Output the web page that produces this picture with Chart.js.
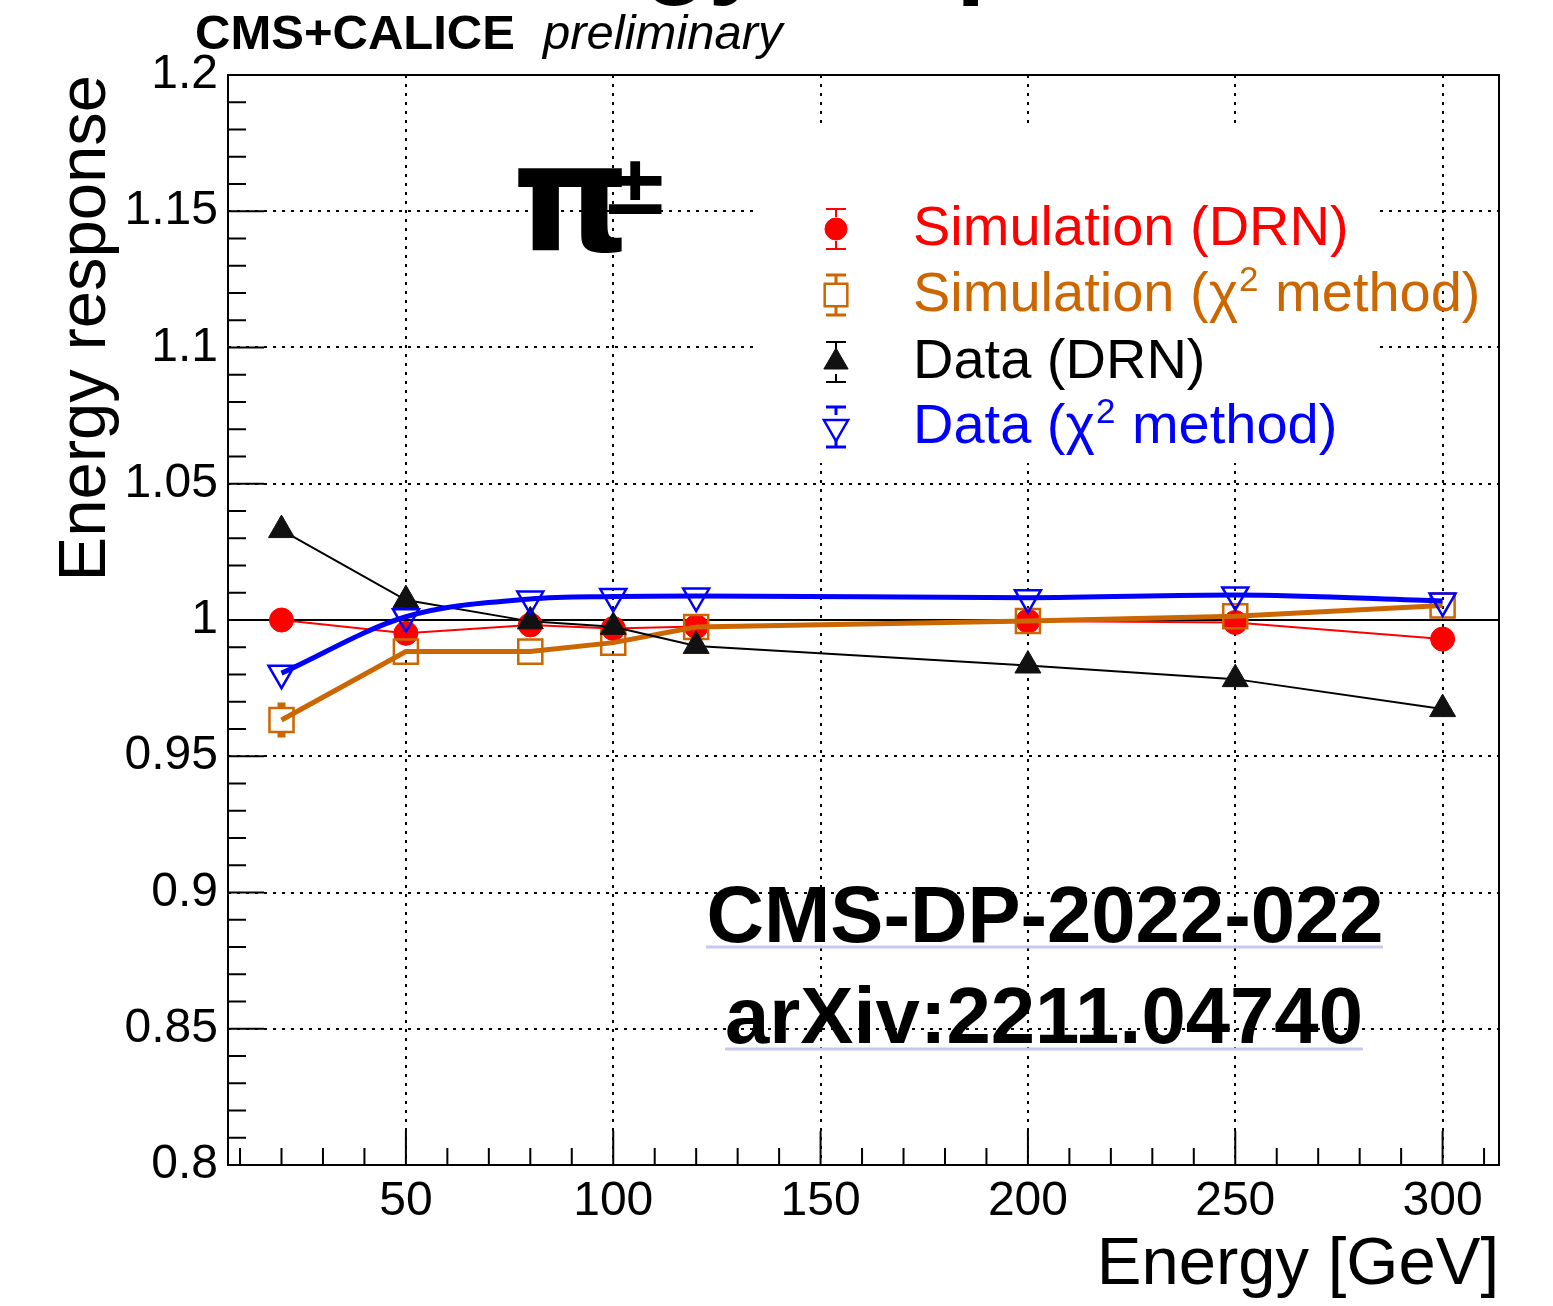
<!DOCTYPE html>
<html>
<head>
<meta charset="utf-8">
<script src="https://cdn.jsdelivr.net/npm/chart.js@4.4.0/dist/chart.umd.min.js"></script>
<style>
  html, body { margin: 0; padding: 0; background: #fff; }
</style>
</head>
<body>
<canvas id="chart" width="1553" height="1306"></canvas>
<script>
// data
const energies = [20, 50, 80, 100, 120, 200, 250, 300];
const simDrn = [1.0000, 0.9951, 0.9982, 0.9969, 0.9976, 0.9996, 0.9991, 0.9930];
const simDrnErr = [0.0015, 0.0012, 0.0010, 0.0010, 0.0010, 0.0010, 0.0010, 0.0012];
const simChi2 = [0.9633, 0.9884, 0.9884, 0.9917, 0.9974, 0.9996, 1.0014, 1.0053];
const simChi2Err = [0.0055, 0.0020, 0.0015, 0.0015, 0.0015, 0.0015, 0.0015, 0.0015];
const dataDrn = [1.0330, 1.0073, 0.9995, 0.9975, 0.9905, 0.9833, 0.9783, 0.9673];
const dataDrnErr = [0.0010, 0.0008, 0.0008, 0.0008, 0.0008, 0.0008, 0.0008, 0.0008];
const dataChi2 = [0.9805, 1.0012, 1.0077, 1.0086, 1.0088, 1.0082, 1.0092, 1.0070];
const dataChi2Err = [0.0015, 0.0012, 0.0010, 0.0010, 0.0010, 0.0010, 0.0010, 0.0010];

const xTicks = [50, 100, 150, 200, 250, 300];
const yTicks = [0.8, 0.85, 0.9, 0.95, 1.0, 1.05, 1.1, 1.15, 1.2];

const FONT = "'Liberation Sans', Arial, Helvetica, sans-serif";
const ORANGE = '#cc6600';

const toPoints = (ys) => energies.map((x, i) => ({ x: x, y: ys[i] }));

// error bars, white legend pad, the y=1 line
const backdropPlugin = {
    id: 'backdrop',
    beforeDatasetsDraw(chart) {
        const { ctx, chartArea, scales } = chart;
        ctx.save();
        // legend pad hides the grid
        ctx.fillStyle = '#fff';
        ctx.fillRect(757, 125, 619, 338);
        // reference line at 1
        ctx.strokeStyle = '#000';
        ctx.lineWidth = 2;
        ctx.beginPath();
        const y1 = scales.y.getPixelForValue(1);
        ctx.moveTo(chartArea.left, y1);
        ctx.lineTo(chartArea.right, y1);
        ctx.stroke();
        // error bars
        chart.data.datasets.forEach(ds => {
            ctx.strokeStyle = ds.borderColor;
            ctx.lineWidth = ds.errWidth;
            ds.data.forEach((p, i) => {
                const px = scales.x.getPixelForValue(p.x);
                const lo = scales.y.getPixelForValue(p.y - ds.errors[i]);
                const hi = scales.y.getPixelForValue(p.y + ds.errors[i]);
                const py = scales.y.getPixelForValue(p.y);
                const h = ds.markerHalf;
                ctx.beginPath();
                if (lo - py > h) {
                    ctx.moveTo(px, py + h); ctx.lineTo(px, lo);
                    ctx.moveTo(px - 4, lo); ctx.lineTo(px + 4, lo);
                }
                if (py - hi > h) {
                    ctx.moveTo(px, py - h); ctx.lineTo(px, hi);
                    ctx.moveTo(px - 4, hi); ctx.lineTo(px + 4, hi);
                }
                ctx.stroke();
            });
        });
        ctx.restore();
    }
};

// frame and inward ticks, ROOT style
const framePlugin = {
    id: 'frame',
    afterDatasetsDraw(chart) {
        const { ctx, chartArea: a, scales } = chart;
        ctx.save();
        ctx.strokeStyle = '#000';
        ctx.lineWidth = 2;
        ctx.strokeRect(a.left, a.top, a.right - a.left, a.bottom - a.top);
        ctx.beginPath();
        for (let v = 10; v <= 310; v += 10) {
            const px = scales.x.getPixelForValue(v);
            const len = v % 50 === 0 ? 34 : 17;
            ctx.moveTo(px, a.bottom);
            ctx.lineTo(px, a.bottom - len);
        }
        for (let k = 80; k <= 120; k++) {
            const py = scales.y.getPixelForValue(k / 100);
            const len = k % 5 === 0 ? 36 : 18;
            ctx.moveTo(a.left, py);
            ctx.lineTo(a.left + len, py);
        }
        ctx.stroke();
        ctx.restore();
    }
};

function drawRich(ctx, text, x, y, size, color) {
    // '²' is drawn as a raised small 2
    const parts = text.split('²');
    let cx = x;
    ctx.fillStyle = color;
    ctx.textAlign = 'left';
    ctx.textBaseline = 'alphabetic';
    parts.forEach((t, i) => {
        ctx.font = `${size}px ${FONT}`;
        ctx.fillText(t, cx, y);
        cx += ctx.measureText(t).width;
        if (i < parts.length - 1) {
            ctx.font = `${Math.round(size * 0.62)}px ${FONT}`;
            ctx.fillText('2', cx + 1, y - size * 0.36);
            cx += ctx.measureText('2').width + 2;
        }
    });
}

// legend and the labels around the plot
const annotationPlugin = {
    id: 'annotations',
    afterDraw(chart) {
        const { ctx } = chart;
        ctx.save();

        // cut-off title at the top edge
        ctx.fillStyle = '#000';
        ctx.font = `bold 106px ${FONT}`;
        ctx.textAlign = 'center';
        ctx.textBaseline = 'alphabetic';
        ctx.fillText('Energy response', 838, -16);

        ctx.textAlign = 'left';
        ctx.font = `bold 49px ${FONT}`;
        ctx.fillText('CMS+CALICE', 195, 49);
        ctx.font = `italic 49px ${FONT}`;
        ctx.fillText('preliminary', 543, 49);

        // pi+-
        ctx.font = "bold 150px 'DejaVu Sans', sans-serif";
        ctx.fillText('π', 512, 250);
        ctx.font = "bold 84px 'DejaVu Sans', sans-serif";
        ctx.fillText('±', 600, 214);

        // legend
        const rowsY = [229, 295, 362, 427];
        chart.data.datasets.forEach((ds, i) => {
            const y = rowsY[i];
            const x = 836;
            ctx.strokeStyle = ds.borderColor;
            ctx.lineWidth = ds.errWidth > 2 ? 3 : 2;
            ctx.beginPath();
            ctx.moveTo(x, y - 20); ctx.lineTo(x, y + 20);
            ctx.moveTo(x - 10, y - 20); ctx.lineTo(x + 10, y - 20);
            ctx.moveTo(x - 10, y + 20); ctx.lineTo(x + 10, y + 20);
            ctx.stroke();
            ctx.fillStyle = '#fff';
            ctx.fillRect(x - 10, y - 12, 20, 24);
            ctx.fillStyle = ds.pointBackgroundColor;
            ctx.strokeStyle = ds.pointBorderColor;
            ctx.lineWidth = ds.pointBorderWidth;
            Chart.helpers.drawPoint(ctx, {
                pointStyle: ds.pointStyle,
                rotation: ds.pointRotation || 0,
                radius: ds.legendRadius,
                borderWidth: ds.pointBorderWidth
            }, x, y);
            drawRich(ctx, ds.label, 913, y + 16, 56, ds.textColor);
        });

        // reference tags with link underline
        ctx.fillStyle = '#000';
        ctx.textAlign = 'center';
        ctx.font = `bold 80px ${FONT}`;
        ctx.fillText('CMS-DP-2022-022', 1045, 942, 677);
        ctx.fillText('arXiv:2211.04740', 1044, 1043, 638);
        ctx.strokeStyle = '#c8c8f0';
        ctx.lineWidth = 3;
        ctx.beginPath();
        ctx.moveTo(706, 947); ctx.lineTo(1383, 947);
        ctx.moveTo(725, 1049); ctx.lineTo(1363, 1049);
        ctx.stroke();
        ctx.restore();
    }
};

const gridOpts = { color: '#000', lineWidth: 2, drawTicks: false };

new Chart(document.getElementById('chart'), {
    type: 'scatter',
    data: {
        datasets: [
            {
                label: 'Simulation (DRN)',
                data: toPoints(simDrn),
                errors: simDrnErr,
                showLine: true,
                borderColor: '#ff0000',
                borderWidth: 2,
                tension: 0,
                pointStyle: 'circle',
                pointRadius: 12,
                pointBackgroundColor: '#ff0000',
                pointBorderColor: '#ff0000',
                pointBorderWidth: 1,
                legendRadius: 11,
                markerHalf: 12,
                errWidth: 2,
                textColor: '#ff0000',
                order: 3
            },
            {
                label: 'Simulation (χ² method)',
                data: toPoints(simChi2),
                errors: simChi2Err,
                showLine: true,
                borderColor: ORANGE,
                borderWidth: 5,
                tension: 0,
                pointStyle: 'rect',
                pointRadius: 17,
                pointBackgroundColor: 'rgba(0,0,0,0)',
                pointBorderColor: ORANGE,
                pointBorderWidth: 2.5,
                legendRadius: 16,
                markerHalf: 12,
                errWidth: 5,
                textColor: ORANGE,
                order: 2
            },
            {
                label: 'Data (DRN)',
                data: toPoints(dataDrn),
                errors: dataDrnErr,
                showLine: true,
                borderColor: '#000000',
                borderWidth: 2,
                tension: 0,
                pointStyle: 'triangle',
                pointRadius: 15,
                pointBackgroundColor: '#111111',
                pointBorderColor: '#111111',
                pointBorderWidth: 1,
                legendRadius: 14,
                markerHalf: 12,
                errWidth: 2,
                textColor: '#000000',
                order: 1
            },
            {
                label: 'Data (χ² method)',
                data: toPoints(dataChi2),
                errors: dataChi2Err,
                showLine: true,
                borderColor: '#0000ff',
                borderWidth: 5,
                cubicInterpolationMode: 'monotone',
                pointStyle: 'triangle',
                pointRotation: 180,
                pointRadius: 15,
                pointBackgroundColor: 'rgba(0,0,0,0)',
                pointBorderColor: '#0000ff',
                pointBorderWidth: 2.5,
                legendRadius: 14,
                markerHalf: 12,
                errWidth: 5,
                textColor: '#0000ff',
                order: 0
            }
        ]
    },
    options: {
        responsive: false,
        animation: false,
        devicePixelRatio: 1,
        layout: { padding: { top: 75, right: 54, bottom: 0, left: 0 } },
        plugins: { legend: { display: false }, tooltip: { enabled: false } },
        scales: {
            x: {
                type: 'linear',
                min: 7.1,
                max: 313.6,
                afterBuildTicks: (s) => { s.ticks = xTicks.map(v => ({ value: v })); },
                afterFit: (s) => { s.height = 141; },
                ticks: {
                    color: '#000',
                    font: { size: 48, family: FONT },
                    padding: 8,
                    maxRotation: 0,
                    autoSkip: false,
                    callback: (v) => String(v)
                },
                grid: gridOpts,
                border: { display: false, dash: [3, 6] },
                title: {
                    display: true,
                    text: 'Energy [GeV]',
                    align: 'end',
                    color: '#000',
                    font: { size: 67, family: FONT },
                    padding: 0
                }
            },
            y: {
                min: 0.8,
                max: 1.2,
                afterBuildTicks: (s) => { s.ticks = yTicks.map(v => ({ value: v })); },
                afterFit: (s) => { s.width = 228; },
                ticks: {
                    color: '#000',
                    font: { size: 48, family: FONT },
                    padding: 10,
                    autoSkip: false,
                    callback: (v) => String(+v.toFixed(2))
                },
                grid: gridOpts,
                border: { display: false, dash: [3, 6] },
                title: {
                    display: true,
                    text: 'Energy response',
                    align: 'end',
                    color: '#000',
                    font: { size: 67, family: FONT },
                    padding: { top: 46, bottom: 0 }
                }
            }
        }
    },
    plugins: [backdropPlugin, framePlugin, annotationPlugin]
});
</script>
</body>
</html>
